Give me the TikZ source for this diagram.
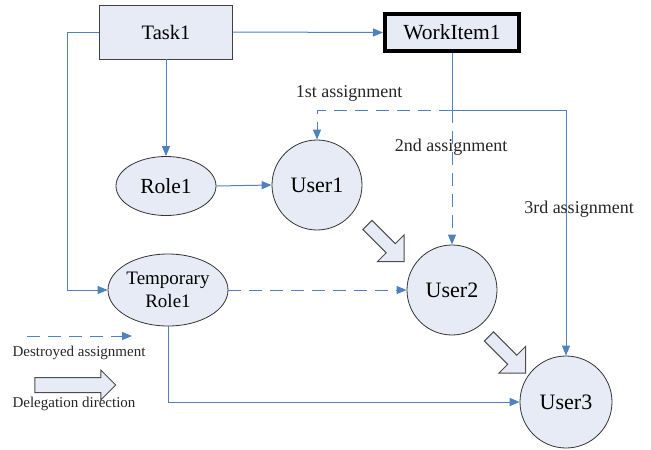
\documentclass[tikz,border=0pt]{standalone}
\usepackage{fontspec}
\setmainfont{Liberation Serif}
\usetikzlibrary{arrows.meta,shapes.geometric,shapes.arrows}

\definecolor{linkblue}{RGB}{79,129,189}
\definecolor{nodefill}{RGB}{231,235,246}

\tikzset{
  link/.style={draw=linkblue, line width=1pt, -{Triangle[length=10pt,width=8pt]}},
  plainlink/.style={draw=linkblue, line width=1pt},
  destroyed/.style={link, dash pattern=on 13pt off 8pt},
  taskbox/.style={draw=black!75, line width=0.8pt, fill=nodefill, font=\fontsize{20.5}{23}\selectfont},
  rolenode/.style={ellipse, draw=black!80, line width=0.8pt, fill=nodefill, inner sep=0pt, font=\fontsize{21.5}{24}\selectfont},
  usernode/.style={circle, draw=black!80, line width=0.8pt, fill=nodefill, minimum size=90pt, inner sep=0pt, font=\fontsize{22}{24}\selectfont},
  delegate/.style={single arrow, draw=black!70, line width=1pt, fill=nodefill, inner xsep=0pt, inner ysep=6pt, single arrow tip angle=90},
  asslabel/.style={font=\fontsize{18}{20}\selectfont, text=black!85},
  legendlabel/.style={font=\fontsize{15}{17}\selectfont, text=black!85}
}

\begin{document}
\begin{tikzpicture}[x=1pt, y=-1pt]
\useasboundingbox (0,0) rectangle (651,450);

% nodes
\node[taskbox, minimum width=133pt, minimum height=54pt] (task) at (166,32) {Task1};
\node[taskbox, draw=black, line width=4pt, minimum width=134pt, minimum height=37pt, font=\fontsize{21.5}{24}\selectfont] (work) at (452,32.5) {WorkItem1};
\node[rolenode, minimum width=100pt, minimum height=59pt] (role) at (166,186) {Role1};
\node[rolenode, minimum width=120pt, minimum height=72pt, align=center, font=\fontsize{19}{23}\selectfont] (temp) at (168,290) {Temporary\\Role1};
\node[usernode] (user1) at (317,185) {User1};
\node[usernode] (user2) at (452,290) {User2};
\node[usernode, minimum size=92pt] (user3) at (566,402) {User3};
\coordinate (split) at (452,110);

% assignments
\draw[link] (task.east) -- (work.west);
\draw[link] (task.south) -- (role.north);
\draw[link] (task.west) -- ++(-32,0) |- (temp.west);
\draw[link] (role.east) -- (user1.west);
\draw[plainlink] (work.south) -- (split);
\draw[destroyed] (split) -| (user1.north);
\draw[destroyed] (split) -- (user2.north);
\draw[link] (split) -| (user3.north);
\draw[destroyed] (temp.east) -- (user2.west);
\draw[link] (temp.south) |- (user3.west);

\node[asslabel] (lab1) at (349,93) {1st assignment};
\node[asslabel] (lab2) at (451,147) {2nd assignment};
\node[asslabel] (lab3) at (579,209) {3rd assignment};

% delegation
\node[delegate, minimum height=52pt, single arrow head extend=12.5pt, rotate=-45] (del1) at (383.5,241) {};
\node[delegate, minimum height=52pt, single arrow head extend=12.5pt, rotate=-45] (del2) at (505,352.5) {};

% legend
\coordinate (legA) at (27,336);
\coordinate (legB) at (132,336);
\draw[destroyed] (legA) -- (legB);
\node[legendlabel] (legtext1) at (79,353) {Destroyed assignment};
\node[delegate, minimum height=81pt, inner ysep=7pt, single arrow head extend=7.5pt] (legarrow) at (71.5,385) {};
\node[legendlabel] (legtext2) at (74,404) {Delegation direction};
\end{tikzpicture}
\end{document}
